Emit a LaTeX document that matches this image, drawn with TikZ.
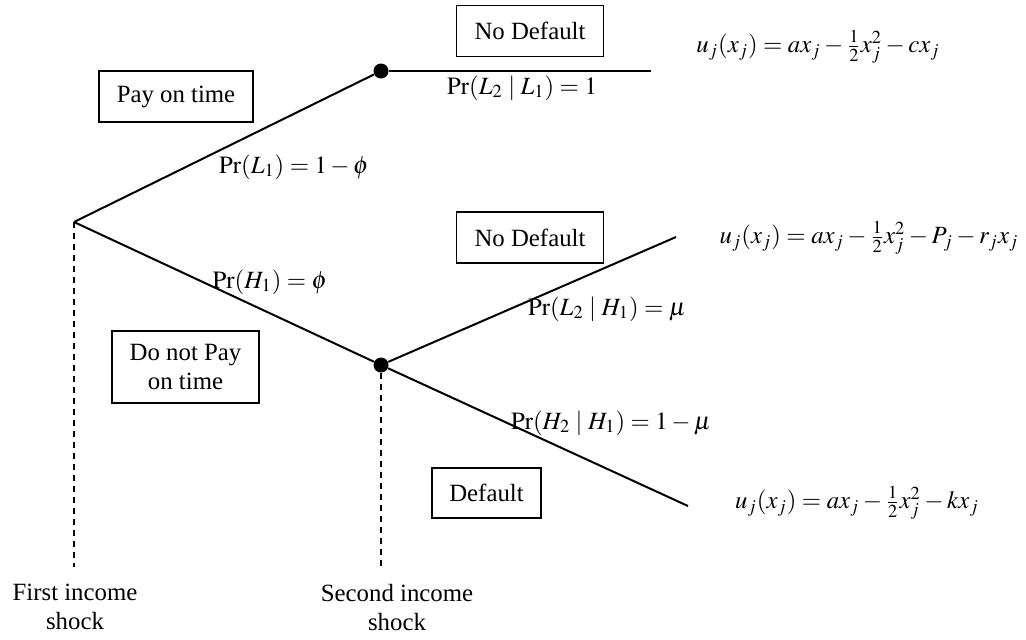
\documentclass[tikz,border=0pt]{standalone}
\usepackage{mathptmx}
\usepackage{fontspec}
\setmainfont{Liberation Serif}

\begin{document}
\begin{tikzpicture}[x=0.5pt,y=-0.5pt,
   font=\fontsize{12.4}{14.5}\selectfont,
   ast/.style={line width=1pt},
   zeit/.style={line width=0.75pt,dash pattern=on 3pt off 2.5pt},
   kasten/.style={draw,line width=0.8pt,align=center,inner sep=0pt},
   punkt/.style={circle,fill=black,inner sep=0pt,minimum size=7.5pt},
   txt/.style={inner sep=0pt,align=center}]
   \useasboundingbox (0,0) rectangle (1026,639);

   %% Knoten
   \coordinate (root) at (74,222);
   \node[punkt] (oben) at (381,71) {};
   \node[punkt] (unten) at (381,365) {};
   \coordinate (endA) at (651,71);
   \coordinate (endB) at (676,237);
   \coordinate (endC) at (688,506);
   \coordinate (fussA) at (74,567);
   \coordinate (fussB) at (381,568);

   %% Baum
   \draw[ast] (root) -- (oben);
   \draw[ast] (root) -- (unten);
   \draw[ast] (oben) -- (endA);
   \draw[ast] (unten) -- (endB);
   \draw[ast] (unten) -- (endC);

   \draw[zeit] (root) -- (fussA);
   \draw[zeit] (unten) -- (fussB);

   %% Kaesten
   \node[kasten,minimum width=73.5pt,minimum height=25.5pt] (nodefA) at (530,31) {No Default};
   \node[kasten,minimum width=77pt,minimum height=25.5pt] (pay) at (176,96.5) {Pay on time};
   \node[kasten,minimum width=73.5pt,minimum height=25.5pt] (nodefB) at (530,237.5) {No Default};
   \node[kasten,minimum width=73.5pt,minimum height=36pt] (nopay) at (185.5,367) {Do not Pay\\on time};
   \node[kasten,minimum width=54.5pt,minimum height=25pt] (def) at (486.5,493) {Default};

   %% Wahrscheinlichkeiten
   \node[txt] (prA) at (522,88) {$\Pr(L_2\mid L_1)=1$};
   \node[txt] (prB) at (294,167) {$\Pr(L_1)=1-\phi$};
   \node[txt] (prC) at (270,282) {$\Pr(H_1)=\phi$};
   \node[txt] (prD) at (607,309) {$\Pr(L_2\mid H_1)=\mu$};
   \node[txt] (prE) at (611,423) {$\Pr(H_2\mid H_1)=1-\mu$};

   %% Nutzen
   \node[txt] (uA) at (818,47) {$u_j(x_j)=ax_j-\frac{1}{2}x_j^2-cx_j$};
   \node[txt] (uB) at (869,238) {$u_j(x_j)=ax_j-\frac{1}{2}x_j^2-P_j-r_jx_j$};
   \node[txt] (uC) at (857,503) {$u_j(x_j)=ax_j-\frac{1}{2}x_j^2-kx_j$};

   %% Zeitachse
   \node[txt] (ersterSchock) at (75,607) {First income\\shock};
   \node[txt] (zweiterSchock) at (397,607) {Second income\\shock};
\end{tikzpicture}
\end{document}
